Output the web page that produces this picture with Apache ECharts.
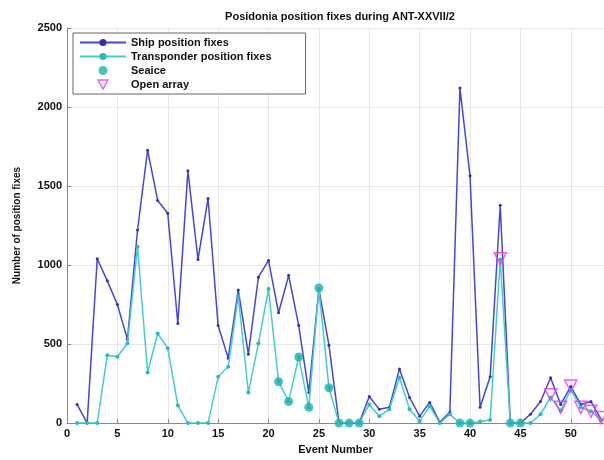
<!DOCTYPE html>
<html>
<head>
<meta charset="utf-8">
<script src="https://cdn.jsdelivr.net/npm/echarts@6/dist/echarts.min.js"></script>
<style>
  html, body { margin: 0; padding: 0; background: #fff; }
  #chart { width: 604px; height: 460px; }
</style>
</head>
<body>
<div id="chart"></div>
<script>
// event numbers 1..53
const events = [1,2,3,4,5,6,7,8,9,10,11,12,13,14,15,16,17,18,19,20,21,22,23,24,25,26,27,28,29,30,31,32,33,34,35,36,37,38,39,40,41,42,43,44,45,46,47,48,49,50,51,52,53];
const shipFixes = [118,0,1040,900,750,530,1222,1727,1409,1328,630,1596,1035,1421,617,411,842,436,923,1029,698,935,617,193,848,493,0,0,0,168,87,100,343,162,44,131,6,69,2120,1565,100,293,1378,0,0,56,137,287,118,231,118,137,25];
const transponderFixes = [0,0,0,430,420,505,1116,320,567,474,112,0,0,0,293,356,804,193,505,848,262,137,418,100,848,224,0,0,0,118,44,87,287,87,12,106,0,56,0,0,10,20,1035,0,0,0,56,162,80,210,100,75,20];
const seaiceEvents = [21,22,23,24,25,26,27,28,29,39,40,44,45];
const seaiceValues = [262,137,418,100,855,224,0,0,0,0,0,0,0];
const openEvents = [43,48,49,50,51,52,53];
const openValues = [1040,180,100,235,100,75,35];

const pairs = (xs, ys) => xs.map((x, i) => [x, ys[i]]);

let myChart = echarts.init(document.getElementById("chart"));
const font = "Liberation Sans, Arial, sans-serif";
const downTriangle = "path://M0,0 L10,0 L5,9 Z";

let option = {
  animation: false,
  backgroundColor: "#fff",
  title: {
    text: "Posidonia position fixes during ANT-XXVII/2",
    left: 335,
    textAlign: "center",
    top: 6,
    textStyle: { fontFamily: font, fontSize: 11, fontWeight: "bold", color: "#111" },
  },
  grid: { left: 67, top: 28, right: 0, bottom: 31, containLabel: false },
  legend: {
    orient: "vertical",
    left: 73,
    top: 33,
    itemGap: 3,
    itemWidth: 46,
    itemHeight: 9,
    padding: [4, 34, 4, 6],
    borderColor: "#666",
    borderWidth: 1,
    backgroundColor: "#fff",
    textStyle: { fontFamily: font, fontSize: 11, fontWeight: "bold", color: "#111" },
    data: [
      "Ship position fixes",
      "Transponder position fixes",
      "Seaice",
      { name: "Open array", icon: downTriangle, itemStyle: { color: "transparent", borderColor: "#ee33ee", borderWidth: 1.5 } },
    ],
  },
  xAxis: {
    type: "value",
    min: 0,
    max: 53.3,
    interval: 5,
    name: "Event Number",
    nameLocation: "middle",
    nameGap: 17,
    nameTextStyle: { fontFamily: font, fontSize: 11, fontWeight: "bold", color: "#111" },
    axisLine: { lineStyle: { color: "#888" } },
    axisTick: { inside: true, length: 4, lineStyle: { color: "#888" } },
    axisLabel: {
      fontFamily: font, fontSize: 11, fontWeight: "bold", color: "#111", margin: 5,
      showMaxLabel: false,
    },
    splitLine: { show: true, lineStyle: { color: "#e6e6e6" } },
  },
  yAxis: {
    type: "value",
    min: 0,
    max: 2500,
    interval: 500,
    name: "Number of position fixes",
    nameLocation: "middle",
    nameGap: 45,
    nameTextStyle: { fontFamily: font, fontSize: 10, fontWeight: "bold", color: "#111" },
    axisLine: { show: true, lineStyle: { color: "#888" } },
    axisTick: { show: true, inside: true, length: 4, lineStyle: { color: "#888" } },
    axisLabel: {
      fontFamily: font, fontSize: 11, fontWeight: "bold", color: "#111", margin: 5,
      formatter: (v) => String(v),
    },
    splitLine: { show: true, lineStyle: { color: "#e6e6e6" } },
  },
  series: [
    {
      name: "Ship position fixes",
      type: "line",
      data: pairs(events, shipFixes),
      symbol: "circle",
      symbolSize: 3,
      lineStyle: { color: "#4545d8", width: 1.5 },
      itemStyle: { color: "#3030b0" },
      z: 2,
    },
    {
      name: "Transponder position fixes",
      type: "line",
      data: pairs(events, transponderFixes),
      symbol: "circle",
      symbolSize: 4,
      lineStyle: { color: "#45cccc", width: 1.5 },
      itemStyle: { color: "#2fb8b8" },
      z: 3,
    },
    {
      name: "Seaice",
      type: "scatter",
      data: pairs(seaiceEvents, seaiceValues),
      symbol: "circle",
      symbolSize: 9,
      itemStyle: { color: "#22b0ac" },
      z: 4,
    },
    {
      name: "Open array",
      type: "scatter",
      data: pairs(openEvents, openValues),
      symbol: "triangle",
      symbolRotate: 180,
      symbolSize: 12,
      itemStyle: { color: "rgba(0,0,0,0)", borderColor: "#ee33ee", borderWidth: 1.5 },
      z: 5,
    },
  ],
};
option && myChart.setOption(option);
</script>
</body>
</html>
